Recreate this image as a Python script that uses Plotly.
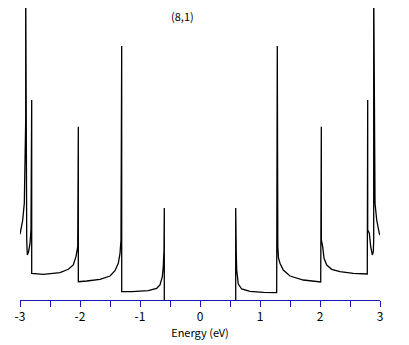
import plotly.graph_objects as go

# (8,1) nanotube density of states (arbitrary DOS units)
energy_valence = [-3.0, -2.955, -2.928, -2.905, -2.905, -2.897, -2.888, -2.878, -2.858, -2.833,
                  -2.817, -2.805, -2.805, -2.612, -2.333, -2.195, -2.112, -2.067, -2.038, -2.028,
                  -2.028, -1.888, -1.667, -1.5, -1.417, -1.362, -1.333, -1.317, -1.305, -1.305,
                  -1.138, -0.862, -0.722, -0.667, -0.628, -0.612, -0.6, -0.595, -0.595]
dos_valence = [65.7, 80, 97, 180, 320, 80, 60, 45, 48, 56.7,
               70, 200, 26.7, 25.7, 27.3, 30.7, 35, 43.3, 53.3, 173.3,
               18.3, 19, 20.7, 24, 29.3, 36.7, 46.7, 60, 254, 8.3,
               8.3, 9.3, 11.7, 15, 23.3, 33.3, 50, 92, 0]

energy_conduction = [0.595, 0.595, 0.605, 0.612, 0.638, 0.695, 0.833, 1.055, 1.278, 1.288,
                     1.288, 1.297, 1.308, 1.333, 1.388, 1.5, 1.722, 2.012, 2.022, 2.022,
                     2.045, 2.067, 2.112, 2.195, 2.333, 2.555, 2.788, 2.795, 2.795, 2.822,
                     2.845, 2.872, 2.888, 2.895, 2.895, 2.917, 2.945, 2.988, 3.0]
dos_conduction = [0, 92, 45, 30, 16, 11, 8.7, 7.7, 7.3, 254,
                  60, 53.3, 42, 36.7, 30, 24, 20, 18, 173.3, 60,
                  53.3, 41.7, 35, 30.7, 28.3, 26.7, 26, 200, 70, 66.7,
                  53.3, 45, 48, 60, 320, 96.7, 80, 66.7, 65]

x_ticks = [-3, -2, -1, 0, 1, 2, 3]
x_ticklabels = ["-3", "-2", "-1", "0", "1", "2", "3"]
title_text = "(8,1)"
x_title = "Energy (eV)"

axis_blue = "#1818b8"

fig = go.Figure()
fig.add_trace(go.Scatter(x=energy_valence, y=dos_valence, mode="lines",
                         line=dict(color="black", width=1.3), showlegend=False))
fig.add_trace(go.Scatter(x=energy_conduction, y=dos_conduction, mode="lines",
                         line=dict(color="black", width=1.3), showlegend=False))

fig.add_annotation(text=title_text, x=-0.3, xref="x", y=0.972, yref="paper",
                   yanchor="middle", xanchor="center",
                   showarrow=False, font=dict(size=11, color="black",
                                              family="Noto Sans CJK JP"))

fig.update_layout(
    width=409, height=345,
    margin=dict(l=12, r=37, t=0, b=53),
    paper_bgcolor="white", plot_bgcolor="white",
    font=dict(family="Noto Sans CJK JP", size=11, color="black"),
    xaxis=dict(range=[-3, 3], tickvals=x_ticks, ticktext=x_ticklabels,
               showgrid=False, zeroline=False, showline=True,
               linecolor=axis_blue, linewidth=1,
               ticks="outside", ticklen=6, tickcolor=axis_blue, tickwidth=1,
               minor=dict(dtick=0.5, ticks="outside", ticklen=6,
                          tickcolor=axis_blue, tickwidth=1, showgrid=False),
               title=dict(text=x_title, standoff=2, font=dict(size=11)),
               tickfont=dict(size=12)),
    yaxis=dict(range=[0, 292], visible=False),
)

fig.write_html("out.html")
